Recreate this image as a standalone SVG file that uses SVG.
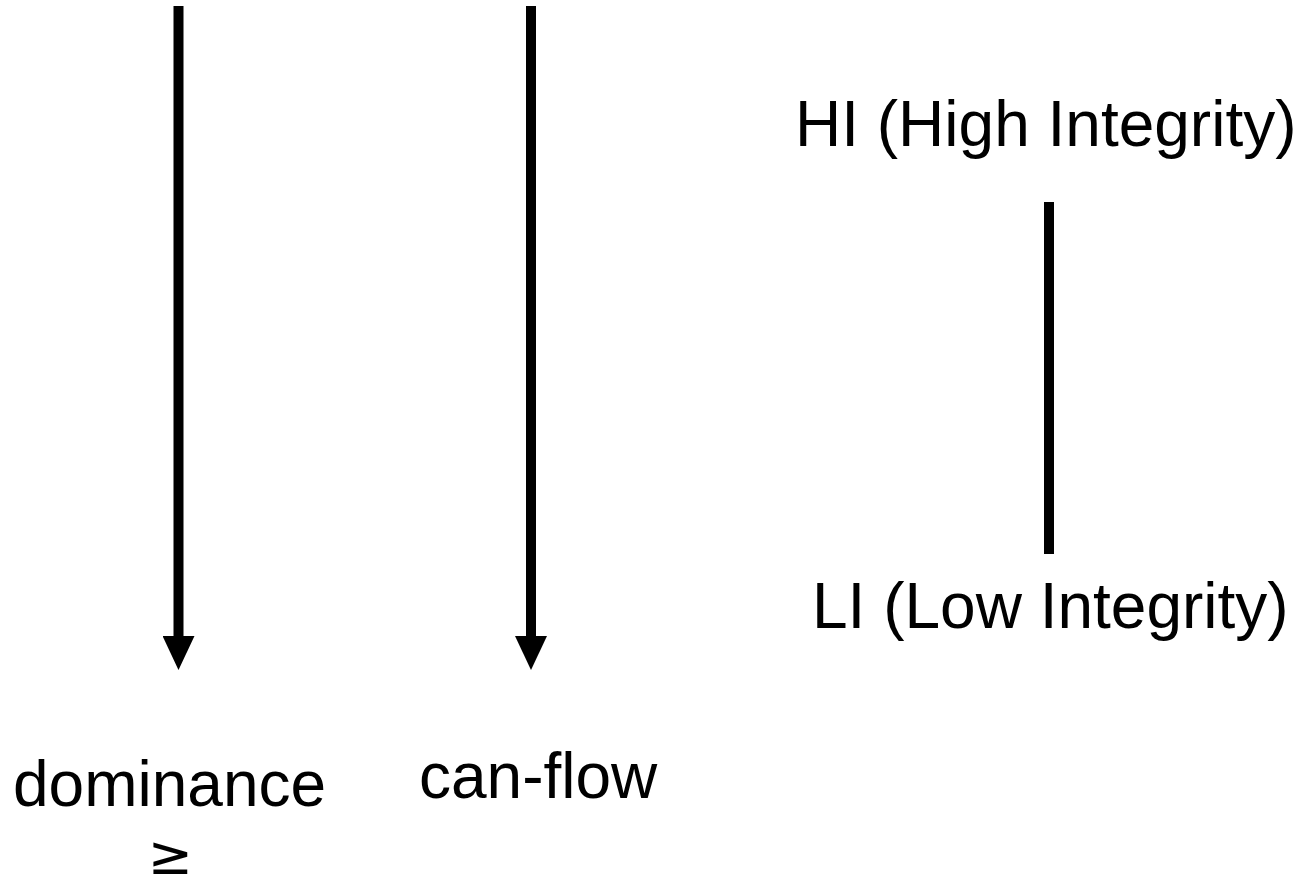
<svg xmlns="http://www.w3.org/2000/svg" width="1302" height="886" viewBox="0 0 1302 886">
  <style>
    .lbl { font-family: "Liberation Sans", Arial, sans-serif; font-size: 64px; fill: #000; }
    .sym { font-family: "DejaVu Sans", sans-serif; font-size: 54px; fill: #000; }
    .edge { stroke: #000; stroke-width: 10; fill: none; }
  </style>
  <defs>
    <marker id="head" markerUnits="userSpaceOnUse" markerWidth="32" markerHeight="34" refX="16" refY="0" orient="0" viewBox="0 0 32 34">
      <path d="M0 0 L32 0 L16 34 Z" fill="#000"/>
    </marker>
  </defs>
  <rect width="1302" height="886" fill="#fff"/>

  <g id="connectors">
    <line class="edge" x1="178.5" y1="6" x2="178.5" y2="636" marker-end="url(#head)"/>
    <line class="edge" x1="531" y1="6" x2="531" y2="636" marker-end="url(#head)"/>
    <line class="edge" x1="1049" y1="202" x2="1049" y2="554"/>
  </g>

  <g id="hi">
    <text class="lbl" x="795" y="146">HI (High Integrity)</text>
  </g>
  <g id="li">
    <text class="lbl" x="812" y="628">LI (Low Integrity)</text>
  </g>
  <g id="dominance">
    <text class="lbl" x="13" y="806">dominance</text>
    <text class="sym" x="170" y="874" text-anchor="middle">≥</text>
  </g>
  <g id="can-flow">
    <text class="lbl" x="419" y="798">can-flow</text>
  </g>
</svg>
